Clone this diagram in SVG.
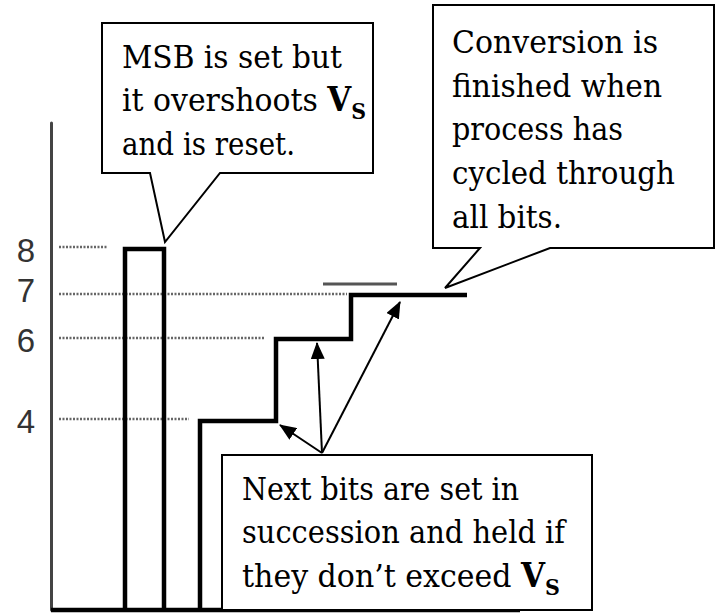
<svg xmlns="http://www.w3.org/2000/svg" width="716" height="613" viewBox="0 0 716 613">
<style>
.txt{font-family:'DejaVu Serif',serif;font-size:32px;fill:#000}
.b{font-weight:bold;font-size:33px}
.sub{font-weight:bold;font-size:22px}
.num{font-family:'Liberation Sans','DejaVu Sans',sans-serif;font-size:33px;fill:#333;text-anchor:middle}
.dot{stroke:#666;stroke-width:2.5;stroke-dasharray:2 1.5;fill:none}
.wave{stroke:#000;stroke-width:4.5;fill:none;stroke-linejoin:miter}
.box{stroke:#000;stroke-width:2;fill:#fff}
.arr{stroke:#000;stroke-width:2;fill:none;marker-end:url(#ah)}
</style>
<defs>
<marker id="ah" markerUnits="userSpaceOnUse" markerWidth="17" markerHeight="14" refX="16" refY="7" orient="auto">
<path d="M0,0 L17,7 L0,14 z" fill="#000"/>
</marker>
</defs>
<rect width="716" height="613" fill="#fff"/>
<g id="axis">
<line x1="51.5" y1="123" x2="51.5" y2="610" stroke="#444" stroke-width="3" stroke-linecap="round"/>
<text class="num" x="26" y="262">8</text>
<text class="num" x="26" y="302">7</text>
<text class="num" x="26" y="352">6</text>
<text class="num" x="26" y="433">4</text>
</g>
<g id="levels">
<line class="dot" x1="59" y1="247" x2="107" y2="247"/>
<line class="dot" x1="59" y1="294" x2="347" y2="294"/>
<line class="dot" x1="59" y1="338" x2="264" y2="338"/>
<line class="dot" x1="59" y1="419" x2="189" y2="419"/>
<line x1="323" y1="284" x2="397" y2="284" stroke="#555" stroke-width="3"/>
</g>
<g id="waveform">
<path class="wave" d="M51,610 L520,610"/>
<path class="wave" d="M125,610 L125,249 L164,249 L164,610 M200,610 L200,421 L276,421 L276,339 L351,339 L351,295 L467,295"/>
</g>
<g id="callout-msb">
<path class="box" d="M102,23 L373,23 L373,173 L220,173 L165,242 L150,173 L102,173 Z"/>
<text class="txt" x="122" y="68" textLength="220" lengthAdjust="spacingAndGlyphs">MSB is set but</text>
<text class="txt" x="122" y="111" textLength="244" lengthAdjust="spacingAndGlyphs">it overshoots <tspan class="b">V</tspan><tspan class="sub" dy="8">S</tspan></text>
<text class="txt" x="122" y="155" textLength="173" lengthAdjust="spacingAndGlyphs">and is reset.</text>
</g>
<g id="callout-done">
<path class="box" d="M433,5 L714,5 L714,248 L550,248 L445,288 L480,248 L433,248 Z"/>
<text class="txt" x="452" y="53" textLength="206" lengthAdjust="spacingAndGlyphs">Conversion is</text>
<text class="txt" x="452" y="97" textLength="210" lengthAdjust="spacingAndGlyphs">finished when</text>
<text class="txt" x="452" y="140" textLength="171" lengthAdjust="spacingAndGlyphs">process has</text>
<text class="txt" x="452" y="184" textLength="223" lengthAdjust="spacingAndGlyphs">cycled through</text>
<text class="txt" x="452" y="228" textLength="110" lengthAdjust="spacingAndGlyphs">all bits.</text>
</g>
<g id="callout-next">
<rect class="box" x="222" y="455" width="370" height="155"/>
<text class="txt" x="242" y="500" textLength="277" lengthAdjust="spacingAndGlyphs">Next bits are set in</text>
<text class="txt" x="242" y="543" textLength="323" lengthAdjust="spacingAndGlyphs">succession and held if</text>
<text class="txt" x="242" y="587" textLength="318" lengthAdjust="spacingAndGlyphs">they don’t exceed <tspan class="b">V</tspan><tspan class="sub" dy="8">S</tspan></text>
</g>
<g id="connectors">
<line class="arr" x1="322" y1="453" x2="280" y2="425"/>
<line class="arr" x1="322" y1="453" x2="317" y2="343"/>
<line class="arr" x1="322" y1="453" x2="400" y2="302"/>
</g>
</svg>
